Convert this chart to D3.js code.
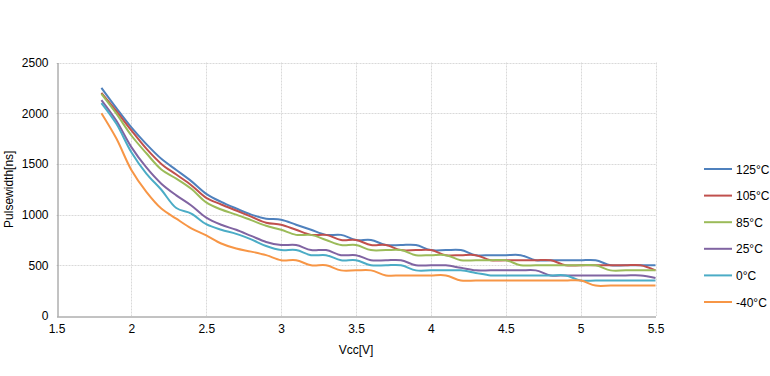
<!DOCTYPE html>
<html>
<head>
<meta charset="utf-8">
<script src="https://cdn.jsdelivr.net/npm/d3@7"></script>
<style>
  html, body { margin: 0; padding: 0; background: #fff; }
  #chart { width: 770px; height: 376px; }
  text { font-family: "Liberation Sans", Arial, sans-serif; }
</style>
</head>
<body>
<div id="chart"></div>
<script>
// ------- data -------
const vcc = [1.8, 1.9, 2.0, 2.1, 2.2, 2.3, 2.4, 2.5, 2.6, 2.7, 2.8, 2.9,
  3.0, 3.1, 3.2, 3.3, 3.4, 3.5, 3.6, 3.7, 3.8, 3.9,
  4.0, 4.1, 4.2, 4.3, 4.4, 4.5, 4.6, 4.7, 4.8, 4.9,
  5.0, 5.1, 5.2, 5.3, 5.4, 5.5];

const t125 = [2250, 2050, 1860, 1695, 1550, 1440, 1330, 1205, 1125, 1060, 1000, 960,
  950, 900, 850, 800, 800, 750, 750, 700, 700, 700,
  650, 650, 650, 600, 600, 600, 600, 550, 550, 550,
  550, 550, 500, 500, 500, 500];
const t105 = [2200, 2020, 1830, 1650, 1500, 1395, 1290, 1165, 1100, 1040, 980, 920,
  900, 850, 800, 800, 750, 750, 700, 700, 650, 650,
  650, 600, 600, 600, 550, 550, 550, 550, 550, 500,
  500, 500, 500, 500, 500, 450];
const t85 = [2190, 1995, 1780, 1605, 1445, 1355, 1255, 1120, 1050, 1000, 945, 890,
  850, 800, 800, 750, 700, 700, 650, 650, 650, 600,
  600, 600, 550, 550, 550, 550, 500, 500, 500, 500,
  500, 500, 450, 450, 450, 450];
const t25 = [2130, 1925, 1665, 1465, 1305, 1190, 1090, 970, 900, 850, 790, 730,
  700, 700, 650, 650, 600, 600, 550, 550, 550, 500,
  500, 500, 475, 450, 450, 450, 450, 450, 400, 400,
  400, 400, 400, 400, 400, 375];
const t0 = [2100, 1895, 1615, 1405, 1245, 1065, 1010, 905, 850, 810, 755, 690,
  650, 650, 600, 600, 550, 550, 500, 500, 500, 450,
  450, 450, 450, 425, 400, 400, 400, 400, 400, 400,
  350, 350, 350, 350, 350, 350];
const tm40 = [2000, 1750, 1440, 1225, 1060, 960, 865, 795, 715, 665, 635, 600,
  550, 550, 500, 500, 450, 450, 450, 400, 400, 400,
  400, 400, 350, 350, 350, 350, 350, 350, 350, 350,
  350, 300, 300, 300, 300, 300];

const seriesNames = ["125°C", "105°C", "85°C", "25°C", "0°C", "-40°C"];
const seriesValues = [t125, t105, t85, t25, t0, tm40];
const seriesColors = ["#4F81BD", "#C0504D", "#9BBB59", "#8064A2", "#4BACC6", "#F79646"];

const xTicks = [1.5, 2, 2.5, 3, 3.5, 4, 4.5, 5, 5.5];
const yTicks = [0, 500, 1000, 1500, 2000, 2500];

(() => {
  const width = 770, height = 376;
  const plot = { left: 56.5, right: 655.5, top: 62.5, bottom: 316 };
  const labelColor = "#000";
  const gridColor = "#d9d9d9";
  const axisColor = "#868686";

  const svg = d3.select("#chart").append("svg")
    .attr("width", width)
    .attr("height", height);

  const x = d3.scaleLinear().domain([1.5, 5.5]).range([plot.left, plot.right]);
  const y = d3.scaleLinear().domain([0, 2500]).range([plot.bottom, plot.top]);

  // grid
  svg.append("g")
    .selectAll("line.vgrid")
    .data(xTicks.slice(1))
    .enter().append("line")
    .attr("x1", d => Math.round(x(d)) + 0.5).attr("x2", d => Math.round(x(d)) + 0.5)
    .attr("y1", plot.top).attr("y2", plot.bottom)
    .attr("stroke", gridColor)
    .attr("stroke-dasharray", "2,1");

  svg.append("g")
    .selectAll("line.hgrid")
    .data(yTicks.slice(1))
    .enter().append("line")
    .attr("x1", plot.left).attr("x2", plot.right)
    .attr("y1", d => Math.round(y(d)) + 0.5).attr("y2", d => Math.round(y(d)) + 0.5)
    .attr("stroke", gridColor)
    .attr("stroke-dasharray", "2,1");

  // axes (no tick marks, like the original)
  const xAxis = d3.axisBottom(x).tickValues(xTicks).tickSize(0).tickPadding(8)
    .tickFormat(d3.format("~g"));
  const yAxis = d3.axisLeft(y).tickValues(yTicks).tickSize(0).tickPadding(9)
    .tickFormat(d3.format("d"));

  svg.append("g")
    .attr("transform", `translate(0,${Math.round(plot.bottom) + 0.5})`)
    .call(xAxis)
    .call(g => g.select(".domain").attr("stroke", axisColor))
    .call(g => g.selectAll("text").attr("fill", labelColor)
      .style("font-size", "12px").style("font-family", "Liberation Sans, Arial, sans-serif"));

  svg.append("g")
    .attr("transform", `translate(${Math.round(plot.left) + 0.5},0)`)
    .call(yAxis)
    .call(g => g.select(".domain").attr("stroke", axisColor))
    .call(g => g.selectAll("text").attr("fill", labelColor)
      .style("font-size", "12px").style("font-family", "Liberation Sans, Arial, sans-serif"));

  // axis titles
  svg.append("text")
    .attr("x", (plot.left + plot.right) / 2).attr("y", 354)
    .attr("text-anchor", "middle")
    .attr("fill", labelColor)
    .style("font-size", "12px")
    .text("Vcc[V]");

  svg.append("text")
    .attr("transform", `translate(13,${(plot.top + plot.bottom) / 2}) rotate(-90)`)
    .attr("text-anchor", "middle")
    .attr("fill", labelColor)
    .style("font-size", "12px")
    .text("Pulsewidth[ns]");

  // lines
  const line = d3.line()
    .x((d, i) => x(vcc[i]))
    .y(d => y(d))
    .curve(d3.curveCatmullRom.alpha(0.5));

  svg.append("g")
    .selectAll("path.series")
    .data(seriesValues)
    .enter().append("path")
    .attr("class", "series")
    .attr("d", d => line(d))
    .attr("fill", "none")
    .attr("stroke", (d, i) => seriesColors[i])
    .attr("stroke-width", 2)
    .attr("stroke-linejoin", "round");

  // legend
  const legend = svg.append("g").attr("transform", "translate(704,169)");
  seriesNames.forEach((name, i) => {
    const row = legend.append("g").attr("transform", `translate(0,${i * 26.6})`);
    row.append("line")
      .attr("x1", 0).attr("x2", 28)
      .attr("y1", 0).attr("y2", 0)
      .attr("stroke", seriesColors[i])
      .attr("stroke-width", 2);
    row.append("text")
      .attr("x", 32).attr("y", 4.5)
      .attr("fill", labelColor)
      .style("font-size", "12px")
      .text(name);
  });
})();
</script>
</body>
</html>
